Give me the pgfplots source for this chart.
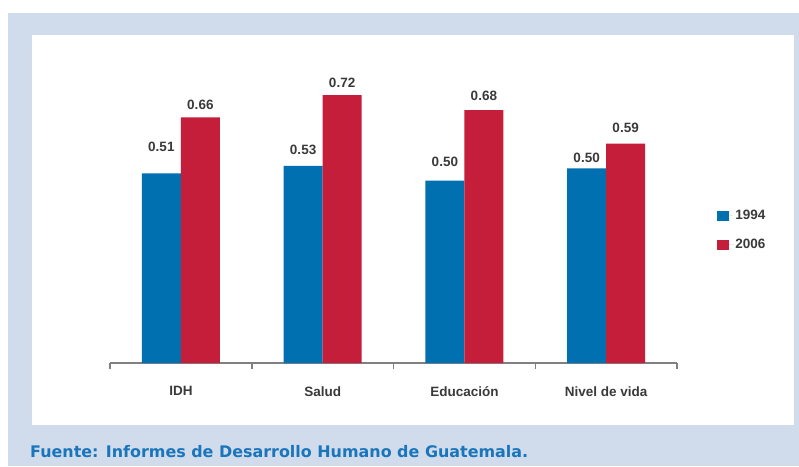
\documentclass[border=0pt]{standalone}
\usepackage{fontspec}
\setmainfont{Liberation Sans}
\newfontfamily\srcfont{DejaVu Sans}
\usepackage{graphicx}
\usepackage{pgfplots}
\pgfplotsset{compat=1.18}
\definecolor{bgblue}{RGB}{208,220,236}
\definecolor{cblue}{RGB}{0,112,176}
\definecolor{cred}{RGB}{196,30,58}
\definecolor{txtgray}{RGB}{58,58,58}
\definecolor{srcblue}{RGB}{26,117,187}
\definecolor{axgray}{RGB}{128,128,128}

\begin{document}
\begin{tikzpicture}
\useasboundingbox (0pt,0pt) rectangle (799pt,466pt);
\fill[white] (0pt,0pt) rectangle (799pt,466pt);
\fill[bgblue] (8pt,0pt) rectangle (799pt,453pt);
\fill[white] (32pt,41pt) rectangle (794pt,431pt);
\node[anchor=west, inner sep=0pt, text=srcblue] at (30pt,14pt)
  {\resizebox{498pt}{!}{\srcfont\bfseries Fuente: Informes de Desarrollo Humano de Guatemala.}};
\begin{axis}[
  at={(110pt,103pt)}, anchor=south west,
  scale only axis, width=567pt, height=297.6pt,
  xmin=-0.5, xmax=3.5, ymin=0, ymax=0.8,
  axis x line*=bottom, axis y line=none,
  axis line style={draw=axgray, line width=1.8pt},
  xtick={0,1,2,3},
  xticklabels={IDH,Salud,Educación,Nivel de vida},
  major tick length=0pt,
  minor xtick={-0.5,0.5,1.5,2.5,3.5},
  minor tick length=6pt,
  tick align=outside,
  minor tick style={draw=axgray, line width=1.5pt},
  xticklabel style={font=\fontsize{13.5}{16}\selectfont\bfseries, text=txtgray, yshift=-20pt},
  ybar=0pt, bar width=39pt,
  clip=false,
  nodes near coords,
  point meta=explicit symbolic,
  nodes near coords style={font=\fontsize{13.5}{15}\selectfont\bfseries, text=txtgray, anchor=base, yshift=0pt, inner sep=0pt},
  legend style={at={(1.071,0.521)}, anchor=north west, draw=none, fill=none,
    font=\fontsize{13.5}{15}\selectfont\bfseries, text=txtgray, row sep=14pt, inner sep=0pt},
  legend cell align=left,
  legend image code/.code={\fill[#1] (0pt,-5pt) rectangle (12pt,5pt); \path (0pt,0pt) -- (16pt,0pt);},
]
\addplot[fill=cblue, draw=none] coordinates {
  (0,0.51)[\raisebox{21.5pt}{0.51}]
  (1,0.53)[\raisebox{11.5pt}{0.53}]
  (2,0.49)[\raisebox{14pt}{0.50}]
  (3,0.523)[\raisebox{5.5pt}{0.50}]};
\addlegendentry{1994}
\addplot[fill=cred, draw=none] coordinates {
  (0,0.66)[\raisebox{8pt}{0.66}]
  (1,0.72)[\raisebox{7.3pt}{0.72}]
  (2,0.68)[\raisebox{10pt}{0.68}]
  (3,0.59)[\raisebox{11.5pt}{0.59}]};
\addlegendentry{2006}
\end{axis}
\end{tikzpicture}
\end{document}
